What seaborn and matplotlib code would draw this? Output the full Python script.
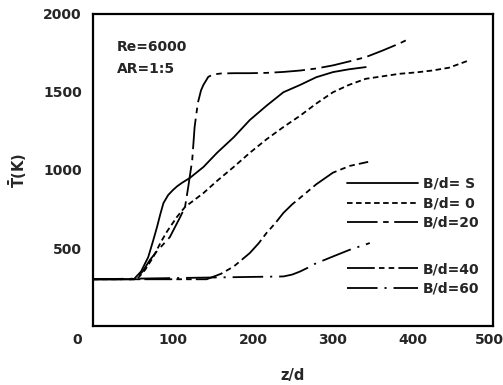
import matplotlib
matplotlib.use("Agg")
import matplotlib.pyplot as plt
import matplotlib.transforms as mtransforms
import seaborn as sns
import pandas as pd

sns.set_theme(style="white")
plt.rcParams['font.family'] = ['DejaVu Sans']
plt.rcParams['lines.scale_dashes'] = False

# ---- data ----
s_x = [0, 51, 60, 69, 75, 80, 84, 88, 94, 100, 105, 111, 121, 138, 155, 176, 196, 217, 238, 259, 279, 300, 320, 341]
s_y = [300, 300, 350, 442, 545, 635, 715, 788, 840, 872, 895, 917, 949, 1019, 1110, 1210, 1320, 1412, 1498, 1545, 1594, 1627, 1645, 1659]

b0_x = [0, 55, 65, 75, 85, 93, 105, 115, 138, 155, 176, 196, 217, 238, 259, 279, 300, 320, 341, 362, 383, 404, 424, 445, 470]
b0_y = [300, 300, 360, 440, 540, 610, 700, 763, 852, 930, 1020, 1110, 1197, 1275, 1348, 1425, 1498, 1545, 1584, 1600, 1616, 1625, 1637, 1655, 1702]

b20_x = [0, 52, 62, 71, 80, 96, 109, 115, 119, 124, 127, 131, 135, 138, 144, 150, 160, 176, 196, 217, 238, 259, 279, 300, 320, 341, 362, 383, 397]
b20_y = [300, 300, 350, 423, 480, 570, 699, 763, 891, 1064, 1276, 1429, 1510, 1545, 1596, 1612, 1618, 1620, 1620, 1622, 1628, 1637, 1650, 1670, 1695, 1723, 1765, 1810, 1845]

b40_x = [0, 142, 160, 176, 196, 207, 217, 228, 238, 249, 259, 279, 300, 321, 344]
b40_y = [300, 300, 335, 382, 468, 530, 597, 660, 725, 780, 822, 908, 983, 1026, 1052]

b60_x = [0, 238, 249, 259, 269, 279, 290, 300, 321, 346]
b60_y = [300, 318, 330, 350, 375, 403, 425, 446, 489, 532]

labels = ["B/d= S", "B/d= 0", "B/d=20", "B/d=40", "B/d=60"]
x_ticks = [0, 100, 200, 300, 400, 500]
y_ticks = [500, 1000, 1500, 2000]

series = [(s_x, s_y), (b0_x, b0_y), (b20_x, b20_y), (b40_x, b40_y), (b60_x, b60_y)]
styles = ['-', (0, (4, 2.5)), (0, (22, 4, 4, 4)), (0, (20, 3, 4, 3, 4, 3)), (0, (22, 5, 1.5, 5))]

fig = plt.figure(figsize=(5.03, 3.85), dpi=100)
ax = fig.add_axes([0.185, 0.153, 0.795, 0.811])

handles = []
for (xs, ys), lab, ls in zip(series, labels, styles):
    df = pd.DataFrame({"z": xs, "T": ys})
    sns.lineplot(data=df, x="z", y="T", ax=ax, color="black", lw=1.3,
                 estimator=None, sort=False, linestyle=ls, label=lab, legend=False)
    handles.append(ax.lines[-1])

ax.set_xlim(0, 500)
ax.set_ylim(0, 2000)
ax.set_xticks(x_ticks)
ax.set_yticks(y_ticks)
ax.set_xticklabels([str(v) for v in x_ticks], fontsize=10, fontweight='bold')
ax.set_yticklabels([str(v) for v in y_ticks], fontsize=10, fontweight='bold')
ax.tick_params(axis='x', direction='in', length=8, width=1.3, pad=5, color='black')
ax.tick_params(axis='y', direction='in', length=6, width=1.3, pad=8, color='black')
# shift the "0" label to the corner and keep "500" inside the figure
xl = ax.get_xticklabels()
xl[0].set_transform(xl[0].get_transform() + mtransforms.ScaledTranslation(-16/100, 0, fig.dpi_scale_trans))
xl[-1].set_transform(xl[-1].get_transform() + mtransforms.ScaledTranslation(-4/100, 0, fig.dpi_scale_trans))

for sp in ax.spines.values():
    sp.set_color('black')
    sp.set_linewidth(1.6)

ax.set_xlabel("z/d", fontsize=10.5, fontweight='bold', labelpad=15)
ax.set_ylabel(r"$\mathbf{\bar{T}}$(K)", fontsize=10.5, fontweight='bold', labelpad=10)

ax.text(30, 1788, "Re=6000", fontsize=10, fontweight='bold', va='center')
ax.text(30, 1647, "AR=1:5", fontsize=10, fontweight='bold', va='center')

leg_kw = dict(frameon=False, borderpad=0, borderaxespad=0, handlelength=5.1,
              handletextpad=0.36, labelspacing=0.4,
              prop={'size': 10, 'weight': 'bold'}, loc='upper left')
leg1 = ax.legend(handles[:3], labels[:3], bbox_to_anchor=(0.635, 0.478), **leg_kw)
ax.add_artist(leg1)
ax.legend(handles[3:], labels[3:], bbox_to_anchor=(0.635, 0.205), **leg_kw)

fig.savefig("out.png", dpi=100)
